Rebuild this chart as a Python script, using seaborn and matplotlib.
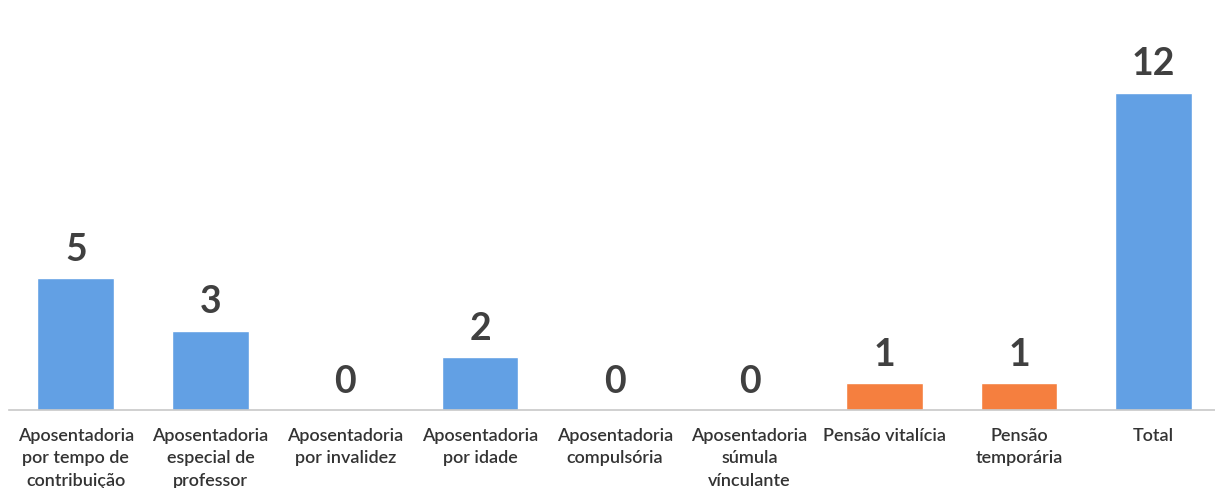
import matplotlib
matplotlib.use("Agg")
import matplotlib.pyplot as plt
import seaborn as sns
import pandas as pd

categories = [
    "Aposentadoria\npor tempo de\ncontribuição",
    "Aposentadoria\nespecial de\nprofessor",
    "Aposentadoria\npor invalidez",
    "Aposentadoria\npor idade",
    "Aposentadoria\ncompulsória",
    "Aposentadoria\nsúmula\nvínculante",
    "Pensão vitalícia",
    "Pensão\ntemporária",
    "Total",
]
values = [5, 3, 0, 2, 0, 0, 1, 1, 12]
groups = ["apos", "apos", "apos", "apos", "apos", "apos", "pensao", "pensao", "apos"]

sns.set_theme(style="white")
plt.rcParams["font.family"] = ["Lato", "DejaVu Sans"]

df = pd.DataFrame({"cat": categories, "val": values, "grp": groups})
palette = {"apos": "#62A0E4", "pensao": "#F57F3F"}

fig = plt.figure(figsize=(12.15, 4.88), dpi=100)
ax = fig.add_axes([0.007, 0.16, 0.998, 0.84])
sns.barplot(data=df, x="cat", y="val", hue="grp", palette=palette,
            dodge=False, width=0.57, legend=False, ax=ax, saturation=1)
ax.set_ylim(0, 15.5)
ax.set_xlim(-0.5, len(categories) - 0.5)
ax.set_xlabel("")
ax.set_ylabel("")
ax.set_yticks([])
for s in ["top", "right", "left"]:
    ax.spines[s].set_visible(False)
ax.spines["bottom"].set_color("#c8c8c8")
ax.spines["bottom"].set_linewidth(1.2)
ax.tick_params(axis="x", length=0, pad=13)
for lab in ax.get_xticklabels():
    lab.set_fontsize(13)
    lab.set_color("#333333")
    lab.set_fontweight("semibold")
    lab.set_linespacing(1.5)

for i, v in enumerate(values):
    ax.annotate(str(v), (i, v), xytext=(0, 8), textcoords="offset points",
                ha="center", va="bottom", fontsize=27, fontweight="bold",
                color="#404040")

fig.savefig("out.png", dpi=100)
